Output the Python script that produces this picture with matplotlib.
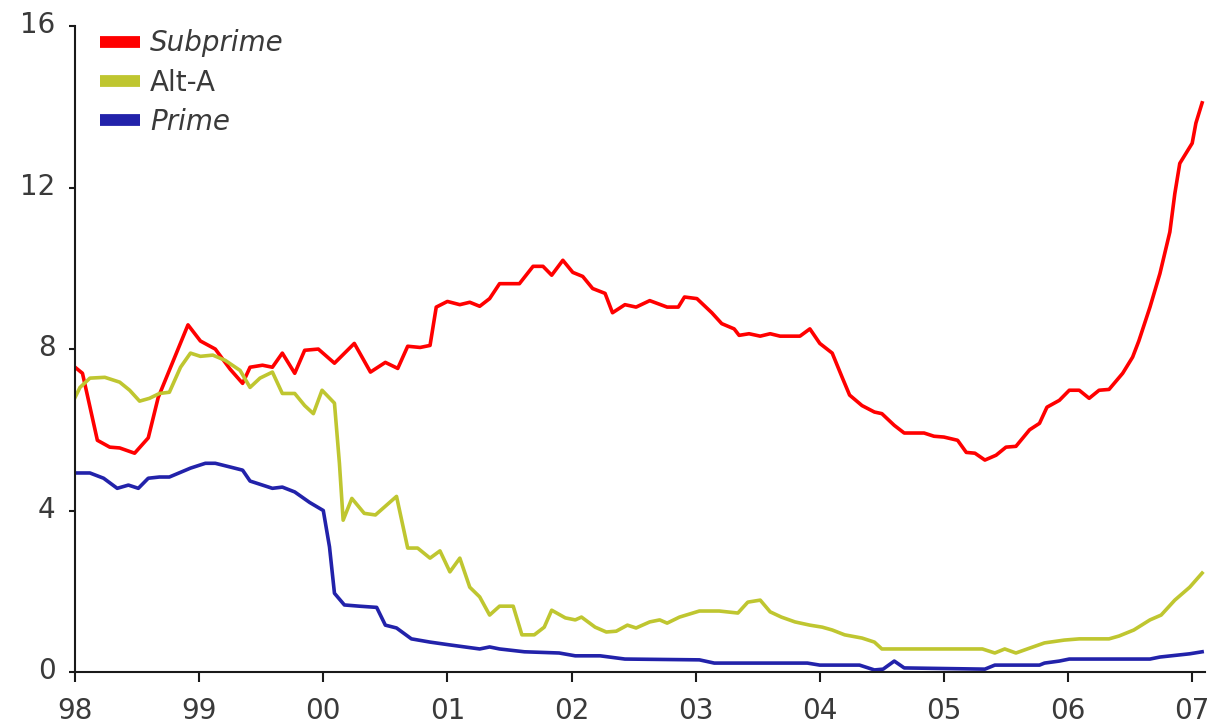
import numpy as np
import matplotlib
matplotlib.use('Agg')
import matplotlib.pyplot as plt
import matplotlib.transforms as mtransforms

# years since Jan 1998, values in %
sub_t = [0.00, 0.06, 0.18, 0.28, 0.36, 0.48, 0.59, 0.67, 0.91, 1.01, 1.13, 1.25, 1.35, 1.41,
         1.51, 1.59, 1.67, 1.77, 1.85, 1.96, 2.09, 2.25, 2.38, 2.50, 2.60, 2.68, 2.78, 2.86,
         2.91, 3.00, 3.10, 3.18, 3.26, 3.34, 3.42, 3.58, 3.69, 3.77, 3.84, 3.93, 4.01, 4.09,
         4.17, 4.27, 4.33, 4.43, 4.52, 4.63, 4.77, 4.86, 4.91, 5.01, 5.13, 5.21, 5.31, 5.35,
         5.43, 5.52, 5.60, 5.68, 5.84, 5.92, 6.00, 6.10, 6.18, 6.24, 6.34, 6.44, 6.50, 6.60,
         6.68, 6.84, 6.92, 7.00, 7.11, 7.18, 7.25, 7.33, 7.42, 7.50, 7.58, 7.69, 7.77, 7.83,
         7.93, 8.01, 8.09, 8.17, 8.25, 8.33, 8.44, 8.52, 8.57, 8.66, 8.74, 8.82, 8.86, 8.90,
         9.00, 9.03, 9.08]
subprime = [7.55, 7.4, 5.74, 5.57, 5.55, 5.42, 5.8, 6.8, 8.6, 8.2, 8.0, 7.5, 7.15, 7.55,
            7.6, 7.55, 7.9, 7.4, 7.97, 8.0, 7.65, 8.14, 7.43, 7.67, 7.52, 8.07, 8.04, 8.09,
            9.04, 9.18, 9.1, 9.16, 9.06, 9.25, 9.62, 9.62, 10.05, 10.05, 9.83, 10.2, 9.9, 9.8,
            9.5, 9.38, 8.9, 9.1, 9.04, 9.2, 9.04, 9.04, 9.29, 9.25, 8.9, 8.63, 8.5, 8.34,
            8.38, 8.32, 8.38, 8.32, 8.32, 8.5, 8.14, 7.9, 7.3, 6.86, 6.6, 6.44, 6.4, 6.11,
            5.92, 5.92, 5.84, 5.82, 5.74, 5.44, 5.42, 5.25, 5.37, 5.57, 5.59, 6.0, 6.16, 6.56,
            6.73, 6.98, 6.98, 6.78, 6.98, 7.0, 7.4, 7.8, 8.2, 9.04, 9.87, 10.9, 11.85, 12.6,
            13.1, 13.6, 14.1]

alt_t = [0.00, 0.04, 0.12, 0.24, 0.36, 0.44, 0.52, 0.60, 0.68, 0.76, 0.85, 0.93, 1.01, 1.11,
         1.21, 1.33, 1.41, 1.49, 1.59, 1.67, 1.77, 1.85, 1.92, 1.99, 2.09, 2.13, 2.16, 2.23,
         2.33, 2.42, 2.59, 2.68, 2.76, 2.86, 2.94, 3.02, 3.10, 3.18, 3.26, 3.34, 3.42, 3.53,
         3.60, 3.70, 3.78, 3.84, 3.95, 4.03, 4.08, 4.19, 4.28, 4.36, 4.45, 4.52, 4.63, 4.71,
         4.77, 4.87, 5.03, 5.19, 5.34, 5.42, 5.52, 5.60, 5.69, 5.80, 5.92, 6.02, 6.10, 6.20,
         6.34, 6.44, 6.50, 7.31, 7.41, 7.49, 7.58, 7.69, 7.81, 7.97, 8.09, 8.33, 8.41, 8.53,
         8.66, 8.75, 8.86, 8.98, 9.08]
alt_a = [6.8, 7.05, 7.28, 7.3, 7.18, 6.98, 6.71, 6.78, 6.9, 6.93, 7.55, 7.9, 7.82, 7.85,
         7.72, 7.47, 7.05, 7.28, 7.43, 6.9, 6.9, 6.6, 6.4, 6.98, 6.66, 5.17, 3.76, 4.3,
         3.93, 3.89, 4.35, 3.07, 3.07, 2.82, 3.0, 2.48, 2.82, 2.1, 1.86, 1.41, 1.63, 1.63,
         0.92, 0.92, 1.11, 1.53, 1.34, 1.29, 1.36, 1.11, 0.99, 1.01, 1.16, 1.09, 1.24, 1.29,
         1.21, 1.36, 1.51, 1.51, 1.46, 1.73, 1.78, 1.49, 1.36, 1.24, 1.16, 1.11, 1.04, 0.92,
         0.84, 0.74, 0.57, 0.57, 0.47, 0.57, 0.47, 0.59, 0.72, 0.79, 0.82, 0.82, 0.89, 1.04,
         1.29, 1.41, 1.78, 2.1, 2.45]

prime_t = [0.00, 0.12, 0.23, 0.34, 0.43, 0.51, 0.59, 0.68, 0.76, 0.93, 1.05, 1.13, 1.26, 1.35,
           1.41, 1.51, 1.59, 1.67, 1.77, 1.89, 2.00, 2.05, 2.09, 2.17, 2.29, 2.43, 2.50, 2.59,
           2.71, 2.86, 3.02, 3.26, 3.34, 3.42, 3.62, 3.90, 4.03, 4.23, 4.43, 5.03, 5.15, 5.90,
           6.00, 6.32, 6.44, 6.51, 6.60, 6.68, 7.33, 7.41, 7.77, 7.81, 7.93, 8.01, 8.66, 8.74,
           8.98, 9.08]
prime = [4.93, 4.93, 4.8, 4.55, 4.63, 4.55, 4.8, 4.83, 4.83, 5.05, 5.17, 5.17, 5.07, 5.0,
         4.73, 4.63, 4.55, 4.58, 4.46, 4.2, 4.0, 3.1, 1.95, 1.66, 1.63, 1.6, 1.16, 1.09,
         0.82, 0.74, 0.67, 0.57, 0.62, 0.57, 0.5, 0.47, 0.4, 0.4, 0.32, 0.3, 0.22, 0.22,
         0.17, 0.17, 0.05, 0.07, 0.27, 0.1, 0.07, 0.17, 0.17, 0.22, 0.27, 0.32, 0.32, 0.37,
         0.45, 0.5]

year_labels = ['98', '99', '00', '01', '02', '03', '04', '05', '06', '07']
y_ticks = [0, 4, 8, 12, 16]

txt = '#3a3a3a'
fig = plt.figure(figsize=(12.18, 7.27), dpi=100)
ax = fig.add_axes([0.0616, 0.0757, 0.9274, 0.8883])

ax.plot(sub_t, subprime, color='#ff0000', lw=2.6, label='Subprime')
ax.plot(alt_t, alt_a, color='#bfc630', lw=2.6, label='Alt-A')
ax.plot(prime_t, prime, color='#2222aa', lw=2.6, label='Prime')

ax.set_xlim(0, 9.1)
ax.set_ylim(0, 16)
ax.set_xticks(np.arange(len(year_labels)))
ax.set_xticklabels(year_labels)
ax.set_yticks(y_ticks)

for s in ['top', 'right']:
    ax.spines[s].set_visible(False)
for s in ['left', 'bottom']:
    ax.spines[s].set_linewidth(1.5)
    ax.spines[s].set_color('#1a1a1a')

ax.tick_params(axis='x', direction='out', length=7, width=1.5, pad=11,
               labelsize=20, labelcolor=txt, color='#1a1a1a')
ax.tick_params(axis='y', direction='out', length=4, width=1.5, pad=10,
               labelsize=20, labelcolor=txt, color='#1a1a1a')

# y labels sit a little above their ticks in the original
up = mtransforms.ScaledTranslation(0, 4 / 100, fig.dpi_scale_trans)
for lab in ax.get_yticklabels():
    lab.set_transform(lab.get_transform() + up)

leg = ax.legend(loc='upper left', bbox_to_anchor=(0.022, 0.995), frameon=False,
                fontsize=20, handlelength=1.45, handletextpad=0.36, labelspacing=0.4,
                borderpad=0, borderaxespad=0)
for line in leg.get_lines():
    line.set_linewidth(8.5)
    line.set_solid_capstyle('butt')
for t in leg.get_texts():
    t.set_color(txt)
leg.get_texts()[0].set_fontstyle('italic')
leg.get_texts()[2].set_fontstyle('italic')

fig.savefig('out.png', dpi=100)
